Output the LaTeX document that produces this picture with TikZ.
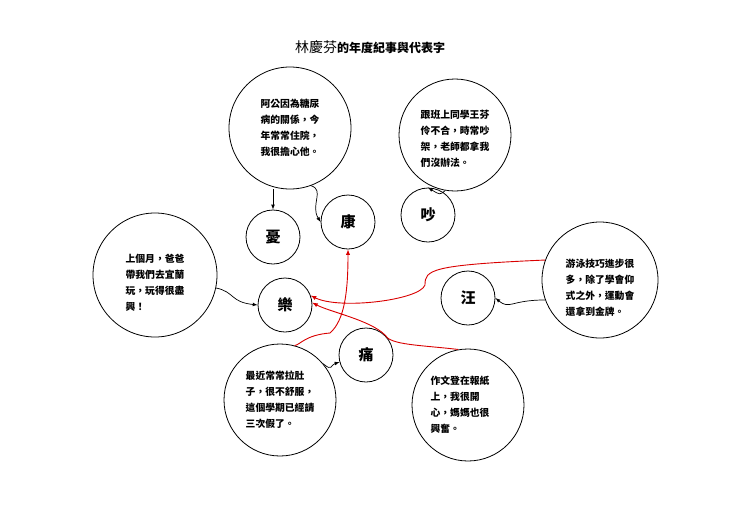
\documentclass[tikz,border=0pt]{standalone}
\usepackage{fontspec}
\setmainfont{Noto Sans CJK TC}
\begin{document}
\begin{tikzpicture}[x=1pt,y=-1pt,
  big/.style={circle,draw,line width=0.8pt,minimum size=#1,inner sep=0pt},
  txt/.style={align=left,font=\fontsize{9.8}{16}\selectfont\bfseries},
  ch/.style={font=\fontsize{15}{15}\selectfont\bfseries},
  blk/.style={-latex,line width=0.7pt},
  rd/.style={-latex,line width=0.9pt,red!85!black}]
\useasboundingbox (0,0) rectangle (740,523);
\node (title) at (370,47) {{\fontsize{14}{14}\selectfont 林慶芬}{\fontsize{12}{12}\selectfont\bfseries 的年度紀事與代表字}};
\node[big=122pt] (A) at (290,128) {};
\node[txt] at (A) {阿公因為糖尿\\病的關係，今\\年常常住院，\\我很擔心他。};
\node[big=112pt] (B) at (455,135) {};
\node[txt] at ([yshift=-4pt]B) {跟班上同學王芬\\伶不合，時常吵\\架，老師都拿我\\們沒辦法。};
\node[big=124pt] (C) at (155,275) {};
\node[txt] at ([yshift=-8pt]C) {上個月，爸爸\\帶我們去宜蘭\\玩，玩得很盡\\興！};
\node[big=116pt] (D) at (600,280) {};
\node[txt] at ([yshift=-8pt]D) {游泳技巧進步很\\多，除了學會仰\\式之外，運動會\\還拿到金牌。};
\node[big=112pt] (E) at (280,400) {};
\node[txt] at (E) {最近常常拉肚\\子，很不舒服，\\這個學期已經請\\三次假了。};
\node[big=112pt] (F) at (468,405) {};
\node[txt] at ([xshift=-8pt]F) {作文登在報紙\\上，我很開\\心，媽媽也很\\興奮。};
\node[big=54pt,ch] (you) at (273,237) {憂};
\node[big=54pt,ch] (kang) at (348,222) {康};
\node[big=54pt,ch] (chao) at (428,215) {吵};
\node[big=54pt,ch] (le) at (285,305) {樂};
\node[big=54pt,ch] (wang) at (468,298) {汪};
\node[big=54pt,ch] (tong) at (366,355) {痛};
\draw[blk] (A.south -| you) -- (you);
\draw[blk] (A.-70) .. controls (325,190) and (310,205) .. (kang.west);
\draw[blk] (B.-100) .. controls (440,195) and (440,195) .. (chao.north);
\draw[blk] (C.-12) .. controls (235,292) and (230,302) .. (le.west);
\draw[blk] (D.200) .. controls (510,300) and (510,310) .. (wang.east);
\draw[blk] (E.40) .. controls (333,372) and (330,365) .. (tong.-165);
\draw[rd] (D.160) .. controls (430,265) and (425,270) .. (425,285) .. controls (420,300) and (340,310) .. (le.20);
\draw[rd] (E.75) .. controls (300,345) and (305,335) .. (330,333) .. controls (345,320) and (348,290) .. (kang.south);
\draw[rd] (F.100) .. controls (420,345) and (390,345) .. (385,335) .. controls (370,320) and (330,312) .. (le.5);
\end{tikzpicture}
\end{document}
